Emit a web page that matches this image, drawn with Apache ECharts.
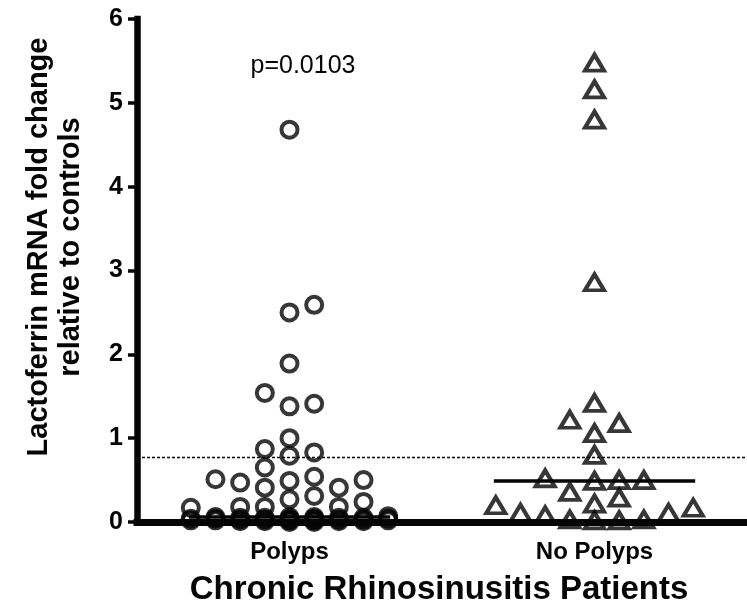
<!DOCTYPE html>
<html>
<head>
<meta charset="utf-8">
<script src="https://cdn.jsdelivr.net/npm/echarts@6/dist/echarts.min.js"></script>
<style>
  html, body { margin: 0; padding: 0; background: #ffffff; }
  #chart { width: 747px; height: 611px; }
</style>
</head>
<body>
<div id="chart"></div>
<script>
// ---- data -------------------------------------------------------------
const groupNames = ['Polyps', 'No Polyps'];

// Lactoferrin mRNA fold change, CRS with nasal polyps
const polypsFold = [
  4.68, 2.59, 2.50, 1.89, 1.54, 1.41, 1.38, 1.00, 0.87, 0.83, 0.79, 0.65,
  0.54, 0.51, 0.50, 0.49, 0.47, 0.41, 0.41, 0.31, 0.27, 0.24, 0.18, 0.18, 0.18, 0.17,
  0.07, 0.06, 0.06, 0.06, 0.05, 0.05, 0.05, 0.05, 0.04, 0.04, 0.04, 0.04, 0.04,
  0.03, 0.03, 0.03, 0.03, 0.03, 0.03, 0.02, 0.02, 0.02, 0.02, 0.02,
  0.01, 0.01, 0.01, 0.01, 0.00, 0.00
];

// Lactoferrin mRNA fold change, CRS without nasal polyps
const noPolypsFold = [
  5.48, 5.16, 4.80, 2.86, 1.42, 1.22, 1.18, 1.06, 0.80, 0.52, 0.50, 0.50, 0.49,
  0.36, 0.29, 0.22, 0.20, 0.17, 0.11, 0.11, 0.08, 0.03, 0.03, 0.02, 0.02
];

const yTickValues = [0, 1, 2, 3, 4, 5, 6];
const cutoffFold = 0.77;
const pValueText = 'p=0.0103';
const yTitleLines = ['Lactoferrin mRNA fold change', 'relative to controls'];
const xTitle = 'Chronic Rhinosinusitis Patients';

// ---- layout -----------------------------------------------------------
const FONT = '"Liberation Sans", Arial, Helvetica, sans-serif';
const INK = '#050505';
const GRID = { left: 137, top: 19, width: 618, height: 503 };
const yMin = yTickValues[0];
const yMax = yTickValues[yTickValues.length - 1];
const pxPerY = GRID.height / (yMax - yMin);
const pxPerX = GRID.width / 2;           // x value axis runs 0.5 .. 2.5
const slotX = 25 / pxPerX;               // horizontal spacing of swarm columns
const clearY = 17 / pxPerY;              // vertical room a symbol needs
const medianHalf = 102 / pxPerX;         // half length of the median bar

// Column-scatter layout: ascending values take the nearest free column
// (centre, right, left, ...); when all are taken the least crowded wins.
function swarm(values, center) {
  const order = [0, 1, -1, 2, -2, 3, -3, 4, -4];
  const placed = order.map(() => []);
  const pts = [];
  values.slice().sort((a, b) => a - b).forEach(v => {
    let best = 0, bestGap = -1;
    for (let k = 0; k < order.length; k++) {
      const gap = placed[k].reduce((m, u) => Math.min(m, Math.abs(v - u)), Infinity);
      if (gap >= clearY) { best = k; break; }
      if (gap > bestGap + 1e-9) { bestGap = gap; best = k; }
    }
    placed[best].push(v);
    pts.push([center + order[best] * slotX, v]);
  });
  return pts;
}

function median(values) {
  const s = values.slice().sort((a, b) => a - b);
  const m = Math.floor(s.length / 2);
  return s.length % 2 ? s[m] : (s[m - 1] + s[m]) / 2;
}

const groups = [polypsFold, noPolypsFold];
const symbols = ['circle', 'triangle'];
const symbolSizes = [16, [19, 16]];

const series = [];
groups.forEach((vals, gi) => {
  const c = gi + 1;
  series.push({
    type: 'scatter',
    name: groupNames[gi],
    xAxisIndex: 0,
    data: swarm(vals, c),
    symbol: symbols[gi],
    symbolSize: symbolSizes[gi],
    itemStyle: { color: 'rgba(255,255,255,0)', borderColor: INK, borderWidth: 4 },
    silent: true,
    z: 4
  });
  const med = median(vals);
  series.push({
    type: 'line',
    xAxisIndex: 0,
    data: [[c - medianHalf, med], [c + medianHalf, med]],
    symbol: 'none',
    lineStyle: { color: INK, width: 3.5 },
    silent: true,
    z: 3
  });
});

// dashed reference level across the whole plot
series.push({
  type: 'line',
  xAxisIndex: 0,
  data: [],
  markLine: {
    silent: true,
    symbol: 'none',
    label: { show: false },
    lineStyle: { color: INK, width: 1.3, type: [3, 2] },
    data: [{ yAxis: cutoffFold }]
  },
  z: 2
});

const chart = echarts.init(document.getElementById('chart'), null, { renderer: 'canvas' });
chart.setOption({
  animation: false,
  backgroundColor: '#ffffff',
  grid: GRID,
  xAxis: [
    {
      type: 'value', min: 0.5, max: 2.5, show: false
    },
    {
      type: 'category',
      data: groupNames,
      boundaryGap: true,
      position: 'bottom',
      axisLine: { show: true, lineStyle: { color: INK, width: 7, cap: 'square' } },
      axisTick: { show: false },
      axisLabel: { color: INK, fontFamily: FONT, fontWeight: 'bold', fontSize: 24, margin: 18 },
      name: xTitle,
      nameLocation: 'middle',
      nameGap: 51,
      nameTextStyle: { color: INK, fontFamily: FONT, fontWeight: 'bold', fontSize: 33, padding: [0, 6, 0, 0] },
      splitLine: { show: false }
    }
  ],
  yAxis: {
    type: 'value',
    min: yMin,
    max: yMax,
    interval: 1,
    axisLine: { show: true, lineStyle: { color: INK, width: 6.5, cap: 'square' } },
    axisTick: { show: true, length: 9, lineStyle: { color: INK, width: 3.5 } },
    axisLabel: { color: INK, fontFamily: FONT, fontWeight: 'bold', fontSize: 25, margin: 14 },
    splitLine: { show: false }
  },
  graphic: [
    {
      type: 'text',
      x: 55, y: 247,
      rotation: Math.PI / 2,
      style: {
        text: yTitleLines.join('\n'),
        fill: INK,
        font: 'bold 29px ' + FONT,
        lineHeight: 32,
        align: 'center',
        verticalAlign: 'middle'
      }
    },
    {
      type: 'text',
      x: 303, y: 66,
      style: {
        text: pValueText,
        fill: INK,
        font: '25px ' + FONT,
        align: 'center',
        verticalAlign: 'middle'
      }
    }
  ],
  series: series
});
</script>
</body>
</html>
